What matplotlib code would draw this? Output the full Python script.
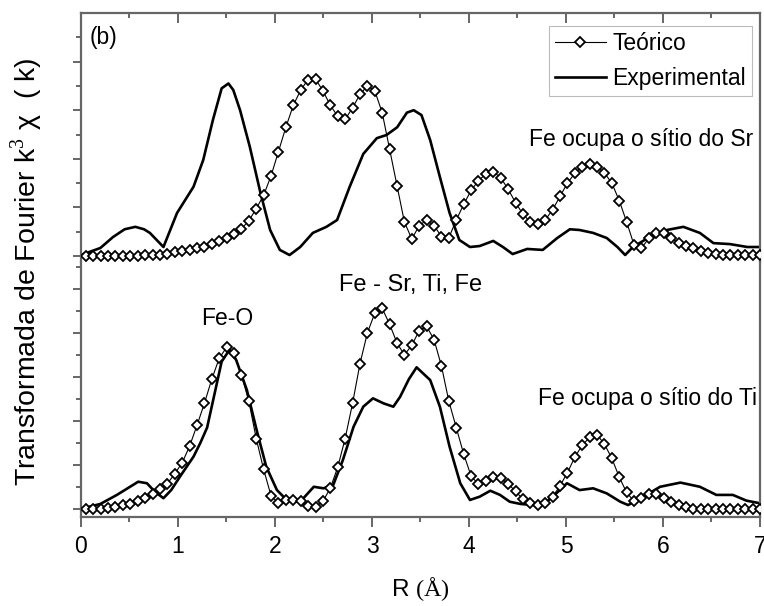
import numpy as np
import matplotlib
matplotlib.use("Agg")
import matplotlib.pyplot as plt
from matplotlib.ticker import MultipleLocator

plt.rcParams['font.family'] = ['Liberation Sans', 'DejaVu Sans']
plt.rcParams['mathtext.fontset'] = 'custom'
plt.rcParams['mathtext.rm'] = 'Liberation Serif'

# R grid of the theoretical curves (markers)
r_theo = np.linspace(0.05, 7.0, 92)

# Fe on Sr site (upper layer)
theo_sr = [0.0, 0.0, 0.0, 0.0, 0.0, 0.0, 0.01, 0.02, 0.03, 0.04,
           0.05, 0.09, 0.15, 0.2, 0.25, 0.31, 0.39, 0.48, 0.6, 0.75,
           0.92, 1.12, 1.45, 1.95, 2.5, 3.3, 4.3, 5.3, 6.2, 6.83,
           7.26, 7.28, 6.8, 6.2, 5.75, 5.62, 6.1, 6.65, 7.0, 6.8,
           5.9, 4.4, 2.9, 1.4, 0.7, 1.25, 1.48, 1.25, 0.8, 0.75,
           1.48, 2.12, 2.7, 3.1, 3.38, 3.47, 3.22, 2.75, 2.2, 1.72,
           1.4, 1.32, 1.48, 1.9, 2.45, 3.0, 3.4, 3.68, 3.79, 3.67,
           3.42, 3.0, 2.28, 1.4, 0.45, 0.32, 0.73, 0.93, 0.96, 0.73,
           0.55, 0.41, 0.32, 0.22, 0.14, 0.08, 0.04, 0.04, 0.04, 0.04,
           0.04, 0.04]

# Fe on Ti site (lower layer)
theo_ti = [0, 0, 0.02, 0.05, 0.1, 0.16, 0.24, 0.36, 0.52, 0.7,
           0.9, 1.15, 1.6, 2.1, 2.85, 3.8, 4.8, 5.9, 6.85, 7.35,
           7.1, 6.1, 4.9, 3.2, 1.8, 0.6, 0.25, 0.4, 0.41, 0.35,
           0.15, 0.1, 0.35, 0.95, 1.9, 3.2, 4.8, 6.6, 8.0, 8.9,
           9.12, 8.4, 7.55, 7.0, 7.45, 8.1, 8.3, 7.7, 6.5, 4.9,
           3.7, 2.5, 1.5, 1.12, 1.25, 1.45, 1.4, 1.15, 0.8, 0.45,
           0.26, 0.2, 0.25, 0.55, 1.05, 1.65, 2.35, 2.9, 3.25, 3.38,
           2.95, 2.3, 1.45, 0.75, 0.35, 0.48, 0.66, 0.68, 0.5, 0.33,
           0.19, 0.08, 0.02, 0, 0, 0, 0, 0, 0, 0,
           0, 0]

# experimental curve, upper copy
r_exp_sr = [0.0, 0.2, 0.33, 0.45, 0.56, 0.65, 0.71, 0.85, 0.99, 1.16,
            1.26, 1.36, 1.45, 1.52, 1.57, 1.64, 1.74, 1.85, 1.95, 2.05,
            2.15, 2.26, 2.39, 2.53, 2.64, 2.77, 2.91, 3.05, 3.15, 3.26,
            3.36, 3.43, 3.51, 3.6, 3.7, 3.8, 3.9, 4.01, 4.11, 4.25,
            4.35, 4.45, 4.6, 4.76, 4.91, 5.04, 5.14, 5.28, 5.42, 5.53,
            5.61, 5.69, 5.87, 6.04, 6.21, 6.38, 6.52, 6.69, 6.87, 7.0]
exp_sr = [0.04, 0.33, 0.78, 1.1, 1.2, 1.1, 0.95, 0.37, 1.77, 2.85,
          3.95, 5.6, 6.9, 7.1, 6.83, 6.0, 4.5, 2.6, 1.07, 0.25,
          0.04, 0.37, 0.95, 1.2, 1.48, 2.85, 4.2, 4.85, 4.98, 5.3,
          5.9, 6.0, 5.8, 4.77, 3.25, 1.77, 0.66, 0.37, 0.41, 0.62,
          0.37, 0.08, 0.29, 0.25, 0.74, 1.1, 1.07, 0.95, 0.74, 0.37,
          0.04, 0.37, 0.8, 1.07, 1.2, 0.95, 0.53, 0.49, 0.37, 0.37]

# experimental curve, lower copy
r_exp_ti = [0.02, 0.2, 0.37, 0.59, 0.68, 0.76, 0.85, 0.93, 1.02, 1.16,
            1.23, 1.3, 1.36, 1.45, 1.53, 1.6, 1.71, 1.81, 1.91, 2.02,
            2.12, 2.26, 2.4, 2.5, 2.6, 2.7, 2.81, 2.91, 3.01, 3.12,
            3.22, 3.29, 3.38, 3.46, 3.6, 3.7, 3.8, 3.91, 4.01, 4.11,
            4.22, 4.32, 4.42, 4.53, 4.66, 4.8, 4.9, 5.01, 5.14, 5.28,
            5.42, 5.56, 5.64, 5.8, 5.97, 6.18, 6.38, 6.55, 6.72, 6.86,
            7.0]
exp_ti = [0.03, 0.23, 0.64, 1.24, 1.17, 0.79, 0.49, 0.86, 1.47, 2.38,
          3.0, 3.7, 4.9, 6.7, 7.23, 6.77, 5.41, 3.6, 1.92, 0.86,
          0.41, 0.33, 1.01, 0.94, 1.09, 2.23, 3.74, 4.65, 5.03, 4.8,
          4.65, 5.1, 5.9, 6.44, 5.86, 4.65, 2.83, 1.17, 0.41, 0.56,
          0.83, 0.64, 0.33, 0.23, 0.18, 0.33, 0.71, 1.17, 0.86, 0.94,
          0.71, 0.33, 0.18, 0.56, 1.01, 1.2, 1.01, 0.64, 0.64, 0.38,
          0.26]

spine_col = '#666666'
fs = 16.5

fig = plt.figure(figsize=(7.64, 6.06), dpi=100)
ax_top = fig.add_axes([0.10602, 0.56766, 0.88874, 0.41007])
ax_bot = fig.add_axes([0.10602, 0.14686, 0.88874, 0.42079])

theo_style = dict(color='black', lw=0.8, marker='D', ms=5.4, mew=1.3,
                  mfc='white', mec='black')

# upper layer: Fe on the Sr site
ax_top.plot(r_exp_sr, exp_sr, color='black', lw=1.9, label='Experimental', zorder=2)
ax_top.plot(r_theo, theo_sr, label='Teórico', zorder=3, **theo_style)
ax_top.set_xlim(0, 7)
ax_top.set_ylim(-0.247, 9.98)

# lower layer: Fe on the Ti site
ax_bot.plot(r_exp_ti, exp_ti, color='black', lw=1.9, zorder=2)
ax_bot.plot(r_theo, theo_ti, zorder=3, **theo_style)
ax_bot.set_xlim(0, 7)
ax_bot.set_ylim(-0.364, 11.227)

for ax in (ax_top, ax_bot):
    for s in ax.spines.values():
        s.set_color(spine_col)
        s.set_linewidth(1.6)
    ax.xaxis.set_major_locator(MultipleLocator(1))
    ax.xaxis.set_minor_locator(MultipleLocator(0.5))
    ax.yaxis.set_major_locator(MultipleLocator(2))
    ax.yaxis.set_minor_locator(MultipleLocator(1))
    ax.tick_params(axis='y', which='both', direction='out', left=True, right=False,
                   labelleft=False, color=spine_col, width=1.4)
    ax.tick_params(axis='y', which='major', length=6)
    ax.tick_params(axis='y', which='minor', length=3.5)

ax_top.spines['bottom'].set_visible(False)
ax_bot.spines['top'].set_visible(False)

ax_top.tick_params(axis='x', which='both', direction='in', top=True, bottom=False,
                   labelbottom=False, color=spine_col, width=1.4)
ax_top.tick_params(axis='x', which='major', length=7)
ax_top.tick_params(axis='x', which='minor', length=3.5)

ax_bot.tick_params(axis='x', which='both', direction='out', top=False, bottom=True,
                   color=spine_col, width=1.4, labelsize=fs, pad=6)
ax_bot.tick_params(axis='x', which='major', length=7)
ax_bot.tick_params(axis='x', which='minor', length=3.5)

ax_bot.set_xlabel('R $\\mathrm{(Å)}$', fontsize=17.5, labelpad=12)
fig.text(27 / 764, 1 - 272 / 606, 'Transformada de Fourier k$^{3}$ χ  ( k)',
         rotation=90, ha='center', va='center', fontsize=20.5)

# labels inside the plot
ax_top.text(0.09, 9.0, '(b)', fontsize=fs, ha='left', va='center')
ax_top.text(6.93, 4.81, 'Fe ocupa o sítio do Sr', fontsize=fs, ha='right', va='center')
ax_bot.text(3.4, 10.2, 'Fe - Sr, Ti, Fe', fontsize=17, ha='center', va='center')
ax_bot.text(1.51, 8.68, 'Fe-O', fontsize=fs, ha='center', va='center')
ax_bot.text(6.97, 5.0, 'Fe ocupa o sítio do Ti', fontsize=fs, ha='right', va='center')

handles, labels = ax_top.get_legend_handles_labels()
leg = ax_top.legend(handles[::-1], labels[::-1], loc='upper right',
                    bbox_to_anchor=(0.988, 0.95), borderaxespad=0, fontsize=fs,
                    fancybox=False, framealpha=1, edgecolor='#bbbbbb',
                    handlelength=2.2, handletextpad=0.3, borderpad=0.25,
                    labelspacing=0.55)
leg.get_frame().set_linewidth(0.8)

fig.savefig('out.png', dpi=100)
